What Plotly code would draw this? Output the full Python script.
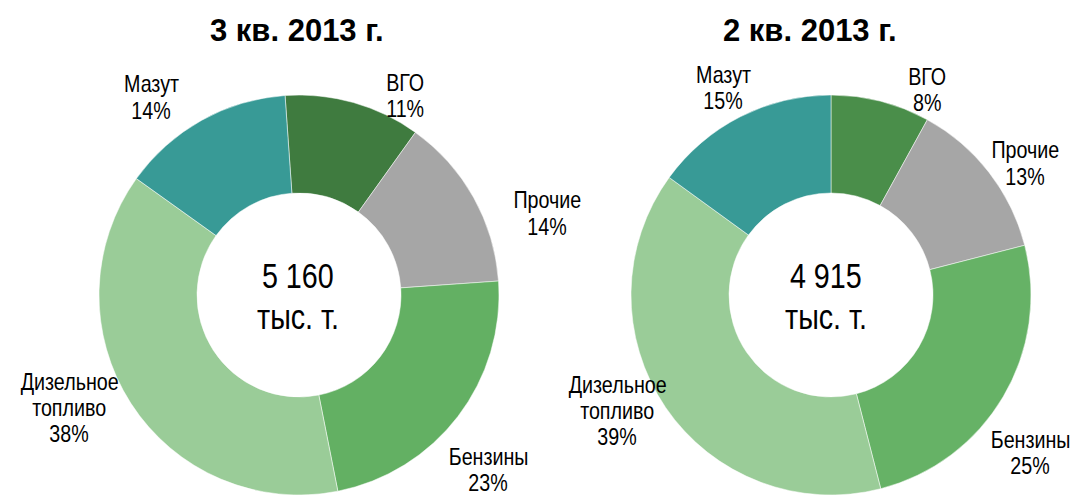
import plotly.graph_objects as go

W, H = 1073, 495

categories = ["ВГО", "Прочие", "Бензины", "Дизельное топливо", "Мазут"]
label_lines = [["ВГО"], ["Прочие"], ["Бензины"], ["Дизельное", "топливо"], ["Мазут"]]
q3_values = [11, 14, 23, 38, 14]
q2_values = [8, 13, 25, 39, 15]
titles = ["3 кв. 2013 г.", "2 кв. 2013 г."]
totals = ["5 160", "4 915"]
unit = "тыс. т."

colors_q3 = ["#3f7b3f", "#a6a6a6", "#63b063", "#9acc98", "#389a96"]
colors_q2 = ["#4a8e4a", "#a6a6a6", "#66b266", "#9acc98", "#389a96"]

NARROW = "Liberation Sans Narrow, Arial Narrow, Liberation Sans, Arial, sans-serif"
REG = "Liberation Sans, Arial, sans-serif"

def px_dom(x0, x1, y0, y1):
    return dict(x=[x0 / W, x1 / W], y=[1 - y1 / H, 1 - y0 / H])

fig = go.Figure()
fig.add_trace(go.Pie(
    labels=categories, values=q3_values, sort=False, direction="clockwise",
    rotation=-4, hole=0.51, textinfo="none", hoverinfo="label+percent",
    marker=dict(colors=colors_q3, line=dict(color="white", width=0.5)),
    domain=px_dom(99, 499, 95, 495), showlegend=False))
fig.add_trace(go.Pie(
    labels=categories, values=q2_values, sort=False, direction="clockwise",
    rotation=0, hole=0.51, textinfo="none", hoverinfo="label+percent",
    marker=dict(colors=colors_q2, line=dict(color="white", width=0.5)),
    domain=px_dom(631, 1031, 95, 495), showlegend=False))

annotations = []

def add_text(x, y, text, size, weight="normal", family=NARROW):
    annotations.append(dict(
        x=x / W, y=1 - y / H, xref="paper", yref="paper", text=text,
        showarrow=False, xanchor="center", yanchor="middle", borderpad=0,
        font=dict(family=family, size=size, color="#000000", weight=weight)))

# titles
add_text(297, 31, titles[0], 31, weight="bold", family=REG)
add_text(810, 31, titles[1], 31, weight="bold", family=REG)

# center totals
add_text(298, 275, totals[0], 35)
add_text(298, 316, unit, 35)
add_text(826, 275, totals[1], 35)
add_text(826, 316, unit, 35)

# slice labels: first line center positions (x, y) and line spacing
LS = 26
pos_q3 = [(405, 83), (547, 200), (488, 456), (69, 381), (151, 84)]
pos_q2 = [(927, 76), (1025, 150), (1030, 439), (617, 384), (723, 75)]

for vals, poss in ((q3_values, pos_q3), (q2_values, pos_q2)):
    for lines, v, (x, y) in zip(label_lines, vals, poss):
        allines = lines + [f"{v}%"]
        for i, t in enumerate(allines):
            add_text(x, y + i * LS, t, 24)

fig.update_layout(
    width=W, height=H, margin=dict(l=0, r=0, t=0, b=0),
    paper_bgcolor="white", plot_bgcolor="white",
    annotations=annotations)

post = """
document.body.style.margin = '0';
document.querySelectorAll('.annotation-text').forEach(function (t) {
  var fw = (t.style.fontWeight || '').toString();
  if (fw === 'bold' || fw === '700') return;
  var w = t.getComputedTextLength();
  var nw = w * 0.82;
  t.setAttribute('textLength', nw.toFixed(2));
  t.setAttribute('lengthAdjust', 'spacingAndGlyphs');
  var g = t.parentNode;
  var r = g ? g.querySelector('rect.bg') : null;
  if (r) {
    var rw = parseFloat(r.getAttribute('width'));
    var rx = parseFloat(r.getAttribute('x') || '0');
    var d = (w - nw) / 2;
    r.setAttribute('x', (rx + d).toFixed(2));
    r.setAttribute('width', Math.max(0, rw - 2 * d).toFixed(2));
  }
});
"""

fig.write_html("out.html", post_script=post, config={"displayModeBar": False})
